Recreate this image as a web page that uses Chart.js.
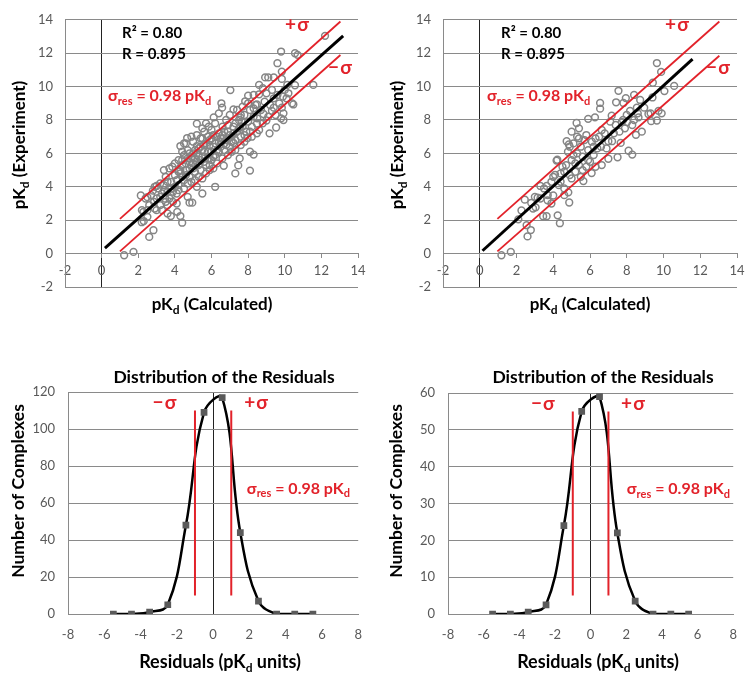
<!DOCTYPE html>
<html>
<head>
<meta charset="utf-8">
<script src="https://cdn.jsdelivr.net/npm/chart.js@4/dist/chart.umd.min.js"></script>
<style>
  body { margin: 0; background: #fff; }
  #wrap { position: relative; width: 750px; height: 676px; }
  canvas { position: absolute; }
</style>
</head>
<body>
<div id="wrap">
  <canvas id="scatterLeft" width="375" height="330" style="left:0;top:0"></canvas>
  <canvas id="scatterRight" width="375" height="330" style="left:375px;top:0"></canvas>
  <canvas id="residLeft" width="375" height="346" style="left:0;top:330px"></canvas>
  <canvas id="residRight" width="375" height="346" style="left:375px;top:330px"></canvas>
</div>
<script>
// ===== data =====

// tick labels
const pkTicks = [-2, 0, 2, 4, 6, 8, 10, 12, 14];
const residTicks = [-8, -6, -4, -2, 0, 2, 4, 6, 8];
const countTicksLeft = [0, 20, 40, 60, 80, 100, 120];
const countTicksRight = [0, 10, 20, 30, 40, 50, 60];

// scatter: [pKd calculated, pKd experiment]
const leftPoints = [
  [1.23,-0.1],[1.74,0.1],[2.6,1.0],[2.83,1.4],[2.3,1.95],[2.5,2.2],[2.2,2.6],[4.4,1.85],[4.3,2.25],[3.6,2.4],
  [3.78,2.25],[4.13,2.5],[4.8,3.05],[4.95,3.05],[4.1,3.0],[6.2,4.0],[5.5,3.6],[8.1,4.97],[8.3,5.93],[8.1,6.1],
  [7.46,5.28],[7.54,5.7],[7.3,4.8],[6.67,5.26],[6.54,9.0],[6.58,8.74],[7.03,9.79],[7.57,8.16],[7.2,8.64],[8.48,7.2],
  [9.17,7.2],[9.53,7.55],[9.93,8.0],[9.93,8.4],[9.84,8.74],[10.47,8.93],[10.1,9.3],[10.0,9.8],[10.14,10.1],[10.56,10.08],
  [11.56,10.1],[9.84,10.46],[9.4,10.55],[9.1,10.55],[8.93,10.55],[9.84,10.9],[9.6,11.4],[9.8,12.1],[10.56,12.0],[10.7,11.9],
  [12.2,13.04],[9.4,8.74],[8.6,9.54],[8.3,9.5],[8.0,9.46],[8.48,8.93],[7.84,9.12],[8.84,8.36],[9.3,8.55],[9.0,7.97],
  [7.57,7.6],[7.97,6.92],[8.48,7.78],[7.2,6.63],[6.49,6.54],[6.12,8.16],[5.85,7.6],[5.2,7.78],[4.67,6.92],[5.2,6.44],
  [4.3,6.44],[3.86,5.2],[3.0,4.05],[2.8,3.77],[2.5,3.38],[2.86,3.1],[3.46,3.29],[2.14,3.48],[2.28,2.5],[2.19,1.88],
  [2.4,3.3],[2.6,2.9],[2.7,3.5],[2.9,2.7],[3.0,3.3],[3.1,3.9],[3.2,2.9],[3.3,3.6],[3.4,4.1],[3.5,3.1],
  [3.6,3.7],[3.7,3.3],[3.8,4.3],[3.9,3.7],[3.3,2.6],[3.6,2.9],[3.9,3.1],[4.0,4.7],[3.5,4.6],[3.2,4.2],
  [2.9,4.0],[3.7,5.1],[3.4,5.0],[4.1,3.6],[4.2,4.1],[4.3,4.8],[4.4,5.3],[4.5,4.4],[4.6,5.0],[4.7,5.7],
  [4.8,4.6],[4.9,5.3],[5.0,6.0],[5.1,4.9],[5.2,5.5],[5.3,6.3],[5.4,5.0],[5.5,5.8],[5.6,6.5],[5.7,5.3],
  [5.8,6.1],[5.9,6.8],[6.0,5.6],[4.2,5.6],[4.4,6.1],[4.6,6.6],[4.8,6.0],[5.0,6.7],[5.2,7.1],[5.4,6.9],
  [5.6,7.3],[5.8,7.0],[6.0,7.4],[4.5,3.9],[4.7,4.2],[4.9,4.3],[5.1,4.4],[5.3,4.6],[5.5,4.5],[5.7,4.8],
  [5.9,5.0],[6.1,5.1],[6.3,5.4],[4.3,5.0],[4.9,5.8],[5.5,6.2],[6.1,6.4],[5.0,5.1],[5.6,5.5],[6.2,5.9],
  [4.1,4.4],[4.6,4.7],[5.3,5.3],[5.9,5.7],[6.4,6.1],[6.5,6.9],[6.3,7.0],[6.6,7.6],[6.2,7.8],[5.7,7.8],
  [5.5,7.5],[4.9,7.0],[4.5,6.6],[4.4,4.6],[6.7,6.2],[6.8,6.8],[6.9,7.3],[7.0,6.4],[7.1,7.0],[7.2,7.6],
  [7.3,6.8],[7.4,7.3],[7.5,8.0],[7.6,7.0],[7.7,7.6],[7.8,8.3],[7.9,7.3],[8.0,7.9],[8.1,8.6],[8.2,7.6],
  [8.3,8.2],[8.4,8.9],[6.6,5.7],[6.9,5.9],[7.1,6.1],[7.3,6.2],[7.6,6.5],[7.8,6.7],[8.2,7.0],[8.6,7.4],
  [8.8,7.8],[8.7,8.6],[8.9,9.1],[9.1,8.2],[9.2,8.9],[9.4,9.3],[9.5,8.3],[9.7,9.0],[9.0,9.6],[8.8,9.9],
  [8.6,10.1],[9.3,9.8],[7.4,8.6],[7.0,8.3],[6.8,8.0],[7.7,8.8],[8.0,9.0],[6.4,8.4],[6.1,7.1],[6.6,7.1],
  [9.6,9.5],[10.2,9.6],[10.4,9.0],[9.8,8.1],[9.9,9.4],[5.9,5.3],[4.7,3.4],[5.2,4.0],[3.0,2.6],[2.5,2.6],
  [4.0,5.4],[4.6,5.4],[5.4,5.6],[6.0,6.1],[6.7,6.6],[7.2,7.2],[6.4,6.7],[5.1,5.7],[4.8,5.1],[3.8,3.9],
  [4.2,4.9],[4.4,5.6],[4.5,5.9],[4.7,6.2],[4.8,5.5],[5.0,5.4],[5.1,6.2],[5.2,6.0],[5.3,5.8],[5.4,6.4],
  [5.5,6.9],[5.6,6.1],[5.7,6.6],[5.8,5.7],[5.9,6.5],[6.0,6.9],[6.1,5.8],[6.2,6.6],[6.3,6.2],[6.4,7.2],
  [6.5,6.4],[6.6,6.9],[6.7,7.3],[6.8,6.5],[6.9,7.7],[7.0,7.1],[7.1,6.7],[7.3,7.8],[7.5,7.5],[7.6,8.3],
  [7.8,7.1],[8.1,7.3],[8.3,8.7],[8.5,8.1],[3.2,3.4],[3.4,3.8],[3.6,4.3],[3.8,3.5],[4.0,4.0],[4.2,3.8]
];
const rightPoints = [
  [1.18,-0.1],[1.69,0.1],[2.6,1.03],[2.78,1.41],[2.55,1.7],[2.1,2.05],[2.27,2.58],[2.45,3.23],[2.8,3.04],[3.04,2.77],
  [3.15,3.35],[3.3,4.05],[3.64,4.05],[3.45,2.24],[3.64,2.24],[4.24,2.29],[4.36,1.82],[3.69,3.19],[4.0,3.48],[3.9,3.0],
  [4.1,4.72],[4.22,5.62],[4.73,6.73],[4.85,6.54],[4.87,3.06],[4.82,3.67],[5.27,7.82],[5.4,7.5],[5.64,4.34],[5.9,8.07],
  [6.55,9.02],[6.55,8.68],[6.27,8.16],[6.64,7.4],[6.09,4.82],[7.0,6.73],[7.0,5.68],[6.64,5.3],[7.18,8.26],[7.2,6.73],
  [7.55,9.75],[7.5,5.77],[7.67,6.63],[7.73,7.88],[7.82,9.02],[7.95,9.31],[8.02,7.88],[8.1,6.16],[8.3,5.93],[8.18,8.55],
  [8.4,9.5],[8.55,8.74],[8.64,8.16],[8.73,9.2],[8.5,7.11],[8.82,7.3],[9.18,8.36],[9.3,8.4],[9.33,7.93],[9.64,7.97],
  [9.73,8.55],[9.9,8.4],[9.42,10.23],[9.4,9.35],[9.64,11.41],[9.87,10.88],[10.05,9.73],[10.58,10.04],[8.95,8.74],[7.42,9.06],
  [3.5,3.9],[3.7,3.5],[4.0,4.6],[4.18,5.57],[4.4,4.3],[4.6,4.9],[4.6,3.9],[4.6,3.5],[4.7,5.3],[4.8,6.1],
  [4.9,6.4],[5.0,4.5],[5.0,5.6],[5.1,6.6],[5.2,4.9],[5.3,6.0],[5.3,7.0],[5.4,5.3],[5.5,6.4],[5.5,4.6],
  [5.6,5.8],[5.7,6.8],[5.8,5.2],[5.9,6.2],[6.0,5.5],[6.1,6.7],[6.2,5.9],[6.3,6.9],[6.4,6.3],[6.5,7.0],
  [6.6,6.4],[6.2,6.4],[5.8,7.1],[5.2,5.4],[4.5,5.2],[4.4,4.8],[3.9,4.3],[6.8,7.2],[6.9,6.3],[7.1,7.9],
  [7.3,7.2],[7.4,7.7],[7.6,7.3],[7.8,8.0],[7.9,7.5],[8.0,8.3],[8.3,7.7],[8.4,8.0],[8.6,8.4],[3.0,3.4],
  [2.9,2.7],[3.3,3.3],[5.6,5.0],[5.9,5.6],[6.3,5.2],[4.3,4.1],[5.1,5.9],[5.4,6.9],[5.0,7.3],[4.9,4.7]
];

// regression line and +/- sigma lines: [x, y] end points
const leftFit = [[0.18, 0.33], [13.19, 13.04]];
const leftPlusSigma = [[1.0, 2.08], [13.04, 13.9]];
const leftMinusSigma = [[1.0, 0.13], [13.04, 11.89]];
const rightFit = [[0.15, 0.17], [11.58, 11.64]];
const rightPlusSigma = [[0.96, 2.08], [13.04, 13.9]];
const rightMinusSigma = [[0.96, 0.13], [13.04, 11.85]];

// residual histograms
const residBins = [-5.5, -4.5, -3.5, -2.5, -1.5, -0.5, 0.5, 1.5, 2.5, 3.5, 4.5, 5.5];
const countsLeft = [0, 0, 1, 5, 48, 109, 117, 44, 7, 0, 0, 0];
const countsRight = [0, 0, 0.5, 2.5, 24, 55, 59, 22, 3.5, 0, 0, 0];
const sigmaX = [-1, 1];
const sigmaSpanLeft = [10, 110];
const sigmaSpanRight = [5, 55];

// ===== styling =====
const RED = "#e2222a";
const GRID = "#8a8a8a";
const TICK = "#595959";
const FONT = "Lato, 'Open Sans', sans-serif";

// draws text with subscripts; items come from options.plugins.rich.items
const richPlugin = {
  id: "rich",
  afterDraw(chart, args, opts) {
    const ctx = chart.ctx;
    (opts.items || []).forEach(it => {
      let x = it.x, y = it.y;
      if (it.data) {
        x = chart.scales.x.getPixelForValue(it.x);
        y = chart.scales.y.getPixelForValue(it.y);
      }
      const size = it.size || 14;
      const fontOf = p => "bold " + (p[1] === "sub" ? Math.round(size * 0.68) : size) + "px " + FONT;
      ctx.save();
      ctx.translate(x, y);
      if (it.rot) ctx.rotate(it.rot);
      ctx.fillStyle = it.color || "#000";
      ctx.textBaseline = "middle";
      ctx.textAlign = "left";
      let w = 0;
      it.parts.forEach(p => { ctx.font = fontOf(p); w += ctx.measureText(p[0]).width; });
      let cx = it.align === "left" ? 0 : -w / 2;
      it.parts.forEach(p => {
        ctx.font = fontOf(p);
        ctx.fillText(p[0], cx, p[1] === "sub" ? size * 0.32 : 0);
        cx += ctx.measureText(p[0]).width;
      });
      ctx.restore();
    });
  }
};

const sigmaRes = [["\u03c3"], ["res", "sub"], [" = 0.98 pK"], ["d", "sub"]];
const toXY = arr => arr.map(p => ({ x: p[0], y: p[1] }));
const useTicks = list => scale => { scale.ticks = list.map(v => ({ value: v })); };
const tickFont = { family: FONT, size: 13 };

function scatterChart(id, points, fit, plus, minus, g) {
  return new Chart(document.getElementById(id), {
    type: "scatter",
    data: {
      datasets: [
        { data: toXY(fit), showLine: true, borderColor: "#000", borderWidth: 3, pointRadius: 0, order: 0 },
        { data: toXY(plus), showLine: true, borderColor: RED, borderWidth: 1.8, pointRadius: 0, order: 0 },
        { data: toXY(minus), showLine: true, borderColor: RED, borderWidth: 1.8, pointRadius: 0, order: 0 },
        { data: toXY(points), pointRadius: 3.4, borderWidth: 1.5, borderColor: "#858585",
          backgroundColor: "rgba(0,0,0,0)", order: 1 }
      ]
    },
    options: {
      responsive: false,
      animation: false,
      layout: { padding: { left: 0, top: 8, right: g.right, bottom: 43 } },
      plugins: {
        legend: { display: false },
        tooltip: { enabled: false },
        rich: {
          items: [
            { x: g.tx, y: 33, align: "left", parts: [["R\u00b2 = 0.80"]], size: 15 },
            { x: g.tx, y: 54, align: "left", parts: [["R = 0.895"]], size: 15 },
            { x: g.sx, y: 96, align: "left", parts: sigmaRes, size: 16, color: RED },
            { x: g.plusX, y: 25, parts: [["+\u200a\u03c3"]], size: 19, color: RED },
            { x: g.minusX, y: 68, parts: [["\u2212\u200a\u03c3"]], size: 19, color: RED },
            { x: g.ytx, y: 145, rot: -Math.PI / 2, parts: [["pK"], ["d", "sub"], [" (Experiment)"]], size: 17 },
            { x: g.xtx, y: 305, parts: [["pK"], ["d", "sub"], [" (Calculated)"]], size: 17 }
          ]
        }
      },
      scales: {
        x: {
          type: "linear", min: -2, max: 14, position: { y: 0 },
          afterBuildTicks: useTicks(pkTicks),
          grid: { color: c => (c.tick && c.tick.value === 0 ? "#222" : "rgba(0,0,0,0)"),
                  tickColor: GRID, tickLength: 4 },
          border: { color: GRID },
          ticks: { color: TICK, font: tickFont, padding: 5, maxRotation: 0 }
        },
        y: {
          type: "linear", min: -2, max: 14,
          afterBuildTicks: useTicks(pkTicks),
          afterFit: s => { s.width = g.yw; },
          grid: { color: GRID, drawTicks: false },
          border: { color: GRID },
          ticks: { color: TICK, font: tickFont, padding: 12 }
        }
      }
    },
    plugins: [richPlugin]
  });
}

function residChart(id, counts, yTicks, span, g) {
  const ymax = yTicks[yTicks.length - 1];
  return new Chart(document.getElementById(id), {
    type: "scatter",
    data: {
      datasets: [
        { data: [{ x: sigmaX[0], y: span[0] }, { x: sigmaX[0], y: span[1] }], showLine: true,
          borderColor: RED, borderWidth: 2, pointRadius: 0, order: 0 },
        { data: [{ x: sigmaX[1], y: span[0] }, { x: sigmaX[1], y: span[1] }], showLine: true,
          borderColor: RED, borderWidth: 2, pointRadius: 0, order: 0 },
        { data: residBins.map((b, i) => ({ x: b, y: counts[i] })), showLine: true, tension: 0.4,
          borderColor: "#000", borderWidth: 2.5, pointStyle: "rect", pointRadius: 3,
          pointBackgroundColor: "#5a5a5a", pointBorderColor: "#5a5a5a", order: 1 }
      ]
    },
    options: {
      responsive: false,
      animation: false,
      layout: { padding: { left: 0, top: g.top, right: g.right, bottom: 0 } },
      plugins: {
        legend: { display: false },
        tooltip: { enabled: false },
        rich: {
          items: [
            { x: g.titleX, y: 47, parts: [["Distribution of the Residuals"]], size: 17.5 },
            { x: g.ytx, y: 161, rot: -Math.PI / 2, parts: [["Number of Complexes"]], size: 17.5 },
            { x: g.xtx, y: 332, parts: [["Residuals (pK"], ["d", "sub"], [" units)"]], size: 18 },
            { data: true, x: -2.68, y: ymax * 0.95, parts: [["\u2212\u200a\u03c3"]], size: 19, color: RED },
            { data: true, x: 2.37, y: ymax * 0.95, parts: [["+\u200a\u03c3"]], size: 19, color: RED },
            { data: true, x: g.sigX, y: ymax * 0.565, parts: sigmaRes, size: 16, color: RED }
          ]
        }
      },
      scales: {
        x: {
          type: "linear", min: -8, max: 8,
          afterBuildTicks: useTicks(residTicks),
          afterFit: s => { s.height = 62; },
          grid: { color: c => (c.tick && c.tick.value === 0 ? "#222" : "rgba(0,0,0,0)"), drawTicks: false },
          border: { color: GRID },
          ticks: { color: TICK, font: tickFont, padding: 13, maxRotation: 0 }
        },
        y: {
          type: "linear", min: 0, max: ymax,
          afterBuildTicks: useTicks(yTicks),
          afterFit: s => { s.width = g.yw; },
          grid: { color: GRID, drawTicks: false },
          border: { color: GRID },
          ticks: { color: TICK, font: tickFont, padding: 13 }
        }
      }
    },
    plugins: [richPlugin]
  });
}

scatterChart("scatterLeft", leftPoints, leftFit, leftPlusSigma, leftMinusSigma,
  { yw: 65, right: 17, tx: 122, sx: 108, plusX: 297, minusX: 340, ytx: 20, xtx: 212 });
scatterChart("scatterRight", rightPoints, rightFit, rightPlusSigma, rightMinusSigma,
  { yw: 68, right: 13, tx: 126, sx: 112, plusX: 302, minusX: 343, ytx: 23, xtx: 215 });
residChart("residLeft", countsLeft, countTicksLeft, sigmaSpanLeft,
  { yw: 68, right: 12, top: 62, titleX: 224, ytx: 18, xtx: 220, sigX: 4.7 });
residChart("residRight", countsRight, countTicksRight, sigmaSpanRight,
  { yw: 73, right: 8, top: 63, titleX: 228, ytx: 21, xtx: 223, sigX: 4.92 });
</script>
</body>
</html>
